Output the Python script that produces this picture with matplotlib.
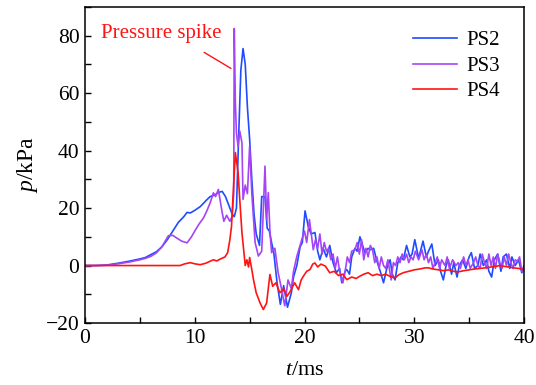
import matplotlib
matplotlib.use("Agg")
import matplotlib.pyplot as plt
from matplotlib.ticker import MultipleLocator

# -----------------------------
# Data
# -----------------------------

t_ps2 = [0, 1, 2, 3, 4, 5, 5.5, 6, 6.5, 7, 7.5, 8, 8.5, 9, 9.3, 9.6, 10, 10.5,
         11, 11.4, 11.8, 12.2, 12.5, 12.8, 13.1, 13.4, 13.6, 13.8, 14.0, 14.2,
         14.4, 14.6, 14.8, 15.0, 15.2, 15.4, 15.6, 15.9, 16.1, 16.4, 16.6, 16.8,
         17.0, 17.2, 17.5, 17.8, 18.1, 18.45, 18.8, 19.0, 19.3, 19.6, 19.8,
         20.05, 20.35, 20.6, 20.95, 21.2, 21.4, 21.7, 22.0, 22.3, 22.6, 22.9,
         23.2, 23.4, 23.7, 23.85, 24.1, 24.3, 24.6, 24.8, 25.05, 25.3, 25.5,
         25.8, 26.0, 26.3, 26.6, 26.9, 27.2, 27.5, 27.8, 28.0, 28.25, 28.5,
         28.8, 29.0, 29.3, 29.6, 29.8, 30.05, 30.4, 30.8, 31.1, 31.3, 31.6,
         31.9, 32.2, 32.4, 32.65, 32.9, 33.1, 33.4, 33.6, 33.9, 34.1, 34.4,
         34.7, 35.0, 35.2, 35.5, 35.8, 36.0, 36.3, 36.6, 36.8, 37.05, 37.3,
         37.6, 37.9, 38.1, 38.4, 38.7, 38.9, 39.2, 39.5, 39.8, 40.0]
p_ps2 = [0, 0, 0.2, 0.8, 1.5, 2.3, 2.8, 3.8, 4.8, 6.5, 9, 12, 15, 17, 18.5,
         18.3, 19.2, 20.5, 22.5, 24, 24.5, 25.5, 25.8, 24, 21, 18, 17, 20, 45,
         68, 75.5, 70, 55, 44, 30, 18, 11, 7, 24, 24, 13, 12, 8, 4.5, -6, -13.5,
         -7, -14.5, -9.5, -4, 0, 6.5, 8, 19, 13.5, 11, 11.5, 5, 2, 6, 3, 7, 1,
         -2.5, -1, -6, -2, -1.4, -3, 3, 6, 5, 10, 7, 4.5, 6, 5.5, 6, 1.5, -2,
         -6, -1, 2, -3, -5, 1, 3, 2, 7, 3, 4, 9, 2.5, 8.5, 3, 5, 7.5, 0, 2, -2,
         -5, 0, 2, -3, 1, -4, 0, 2, -1, 3, 4.5, -1, 0, 4, 0, 2, -2, -4, 2, 4,
         -2, 3, 4, -1, 3, 0, 2, -2.5, -1]

t_ps3 = [0, 1, 2, 3, 4, 5, 5.5, 6, 6.5, 7, 7.6, 8.0, 8.35, 8.8, 9.3, 9.7,
         10.0, 10.4, 10.8, 11.1, 11.4, 11.7, 11.9, 12.15, 12.45, 12.65, 12.9,
         13.2, 13.4, 13.55, 13.6, 13.7, 13.8, 13.95, 14.1, 14.3, 14.4, 14.6,
         14.8, 15.0, 15.2, 15.5, 15.8, 16.1, 16.4, 16.55, 16.7, 16.85, 17.0,
         17.3, 17.6, 17.9, 18.2, 18.5, 18.8, 19.0, 19.3, 19.75, 20.0, 20.2,
         20.45, 20.65, 20.8, 21.0, 21.2, 21.4, 21.6, 21.8, 22.0, 22.2, 22.4,
         22.6, 22.8, 23.0, 23.2, 23.5, 23.7, 23.9, 24.1, 24.3, 24.6, 24.8,
         25.0, 25.2, 25.4, 25.6, 25.8, 26.0, 26.2, 26.4, 26.6, 26.8, 27.0,
         27.2, 27.4, 27.6, 27.9, 28.1, 28.3, 28.5, 28.7, 28.9, 29.1, 29.3,
         29.5, 29.7, 29.9, 30.1, 30.4, 30.7, 30.9, 31.1, 31.3, 31.5, 31.7,
         31.9, 32.1, 32.3, 32.5, 32.8, 33.0, 33.2, 33.5, 33.8, 34.0, 34.2,
         34.5, 34.7, 34.9, 35.1, 35.4, 35.6, 35.8, 36.0, 36.2, 36.4, 36.6,
         36.8, 37.0, 37.2, 37.4, 37.6, 37.8, 38.0, 38.2, 38.4, 38.6, 38.8,
         39.0, 39.2, 39.4, 39.6, 39.8, 40.0]
p_ps3 = [0, 0, 0.1, 0.6, 1.2, 2.0, 2.5, 3.2, 4.4, 6.5, 10.4, 10.5, 9.6, 8.5,
         7.9, 10, 12, 14.5, 16.6, 19, 21.8, 25.3, 24, 26.5, 19.5, 15.4, 17.5,
         15.4, 17, 25, 82.5, 56.7, 46, 41.5, 46.8, 42.7, 23, 28, 25, 41.5, 25,
         8, 3.3, 5, 34.6, 16, 25.4, 12, 4.5, 6, -2.5, -8, -14, -5, -8, -2, 3.2,
         9, 12, 8, 16, 10, 5.5, 9, 6, 11, 4, 8, 5, 6, 2, 4, -1, 3, -2, -6, -2,
         3, 1, 5, 5.5, 8, 4, 9, 2, 6, 3, 7, 5.5, 1, 3, -1, 3, 0, -1, 2, -5, 1,
         0, 3, 1, 4, 2, 4, 1, 3, 2, 5, 2, 5.5, 2, 4, 1, 3, -1, 1, 3, -1, 2, 0,
         3, -1, 2, 0, 1, -1, 3, 0, 2, -1, 1, 3, 0, -1, 4, 1, -1, 4, 0, 3, -1,
         4, 1, -1, 3, 0, 4, 1, -1, 2, 1.5, 3, -2, 0]

t_ps4 = [0, 2, 4, 6, 8, 8.65, 9.1, 9.6, 10.0, 10.5, 11.0, 11.4, 11.7, 12.0,
         12.4, 12.75, 13.0, 13.2, 13.35, 13.5, 13.7, 13.95, 14.1, 14.3, 14.6,
         14.75, 14.9, 15.0, 15.2, 15.35, 15.6, 15.95, 16.25, 16.55, 16.7,
         16.85, 17.1, 17.4, 17.75, 18.1, 18.4, 18.7, 19.1, 19.45, 19.7, 19.9,
         20.2, 20.5, 20.75, 20.95, 21.2, 21.5, 21.9, 22.3, 22.7, 23.1, 23.5,
         23.85, 24.3, 24.7, 25.05, 25.4, 25.8, 26.2, 26.6, 27.0, 27.4, 27.8,
         28.25, 28.6, 29.0, 29.5, 30.0, 30.5, 31.0, 31.3, 31.7, 32.2, 32.7,
         33.1, 33.55, 34.0, 34.5, 35.0, 35.5, 36.0, 36.5, 37.0, 37.4, 37.8,
         38.2, 38.6, 39.0, 39.5, 39.95]
p_ps4 = [0, 0, 0, 0, 0, 0, 0.6, 1.0, 0.6, 0.3, 0.8, 1.5, 2.0, 1.6, 2.4, 3.0,
         4.5, 9, 13.7, 25, 39.3, 32.3, 23, 11.4, 0, 2, -0.5, 2.8, -1.4, -4.9,
         -9.5, -13, -15.3, -13, -8, -3.1, -7.2, -6, -9.5, -8, -10.7, -9, -6,
         -8.4, -5, -3.7, -2, -1.4, 0.5, 0.9, -0.5, 0.5, -0.2, -2.5, -2.0, -3.5,
         -3.0, -4.9, -4.0, -4.5, -3.7, -3.0, -2.5, -3.5, -3.0, -3.5, -3.0, -3.8,
         -4.3, -3.2, -2.5, -2.0, -1.5, -1.2, -0.8, -0.8, -1.2, -1.5, -1.8, -1.5,
         -2.0, -2.2, -1.8, -1.5, -1.2, -1.0, -0.8, -0.5, -0.3, 0.0, -0.3, -0.5,
         -0.8, -1.0, -1.4]

series_names = ["PS2", "PS3", "PS4"]

# annotation: label position and the short leader line
spike_label = "Pressure spike"
spike_text_at = (1.45, 80.6)
spike_line_from = (10.85, 74.2)
spike_line_to = (13.3, 68.6)

# -----------------------------
# Plot
# -----------------------------

plt.rcParams["font.family"] = ["Liberation Serif", "DejaVu Serif"]
plt.rcParams["mathtext.fontset"] = "custom"
plt.rcParams["mathtext.it"] = "Liberation Serif:italic"
plt.rcParams["mathtext.rm"] = "Liberation Serif"

fig = plt.figure(figsize=(5.36, 3.85), dpi=100)
ax = fig.add_axes([0.1586, 0.161, 0.819, 0.821])

ax.plot(t_ps2, p_ps2, color="#1f4cff", lw=1.2, label=series_names[0])
ax.plot(t_ps3, p_ps3, color="#a545f5", lw=1.2, label=series_names[1])
ax.plot(t_ps4, p_ps4, color="#ff1414", lw=1.2, label=series_names[2])

ax.set_xlim(0, 40)
ax.set_ylim(-20, 90)
ax.xaxis.set_major_locator(MultipleLocator(10))
ax.xaxis.set_minor_locator(MultipleLocator(5))
ax.yaxis.set_major_locator(MultipleLocator(20))
ax.yaxis.set_minor_locator(MultipleLocator(10))
ax.tick_params(which="both", direction="in", length=4, width=1,
               labelsize=15.5, top=False, right=False, pad=4)

for s in ax.spines.values():
    s.set_linewidth(1.1)

ax.set_xlabel("$t$/ms", fontsize=16, labelpad=10)
ax.set_ylabel("$p$/kPa", fontsize=17, labelpad=4)

ax.legend(loc="upper right", frameon=False, fontsize=15,
          handlelength=2.1, handletextpad=0.45, labelspacing=0.28,
          borderaxespad=0.75)

ax.text(spike_text_at[0], spike_text_at[1], spike_label,
        color="#ff1414", fontsize=15, va="center")
ax.annotate("", xy=spike_line_to, xytext=spike_line_from,
            arrowprops=dict(arrowstyle="-", color="#ff1414", lw=1,
                            shrinkA=0, shrinkB=0))

fig.savefig("out.png", dpi=100)
